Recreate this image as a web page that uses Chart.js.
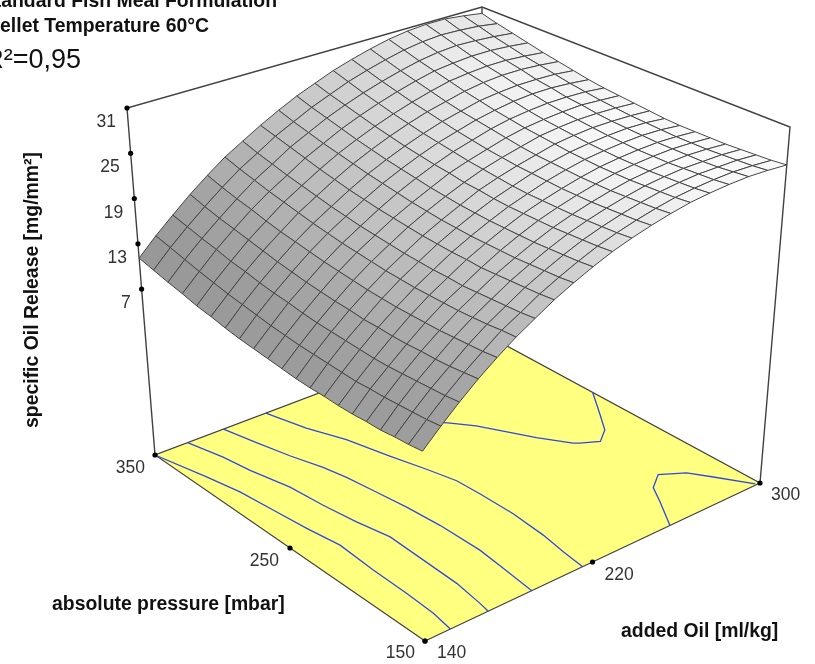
<!DOCTYPE html>
<html>
<head>
<meta charset="utf-8">
<title>specific Oil Release</title>
<script src="https://cdn.jsdelivr.net/npm/chart.js@4"></script>
<style>
  html, body { margin: 0; padding: 0; background: #fff; }
  canvas { display: block; }
</style>
</head>
<body>
<canvas id="mycanvas" width="815" height="664"></canvas>
<script>
// axis ticks
var oilTicks = [140, 220, 300];
var pressureTicks = [150, 250, 350];
var releaseTicks = [7, 13, 19, 25, 31];

// surface, one row per pressure step, one column per oil step
var oilSteps = [140, 148.4, 156.8, 165.3, 173.7, 182.1, 190.5, 198.9, 207.4, 215.8, 224.2, 232.6, 241.1, 249.5, 257.9, 266.3, 274.7, 283.2, 291.6, 300];
var pressureSteps = [150, 160, 170, 180, 190, 200, 210, 220, 230, 240, 250, 260, 270, 280, 290, 300, 310, 320, 330, 340, 350];
var release = [
  [7.8, 9.9, 11.9, 13.8, 15.5, 17.1, 18.5, 19.9, 21.1, 22.2, 23.2, 24.0, 24.7, 25.3, 25.8, 26.1, 26.3, 26.4, 26.3, 26.1],
  [7.6, 9.7, 11.7, 13.6, 15.3, 17.0, 18.3, 19.7, 20.9, 22.0, 23.0, 23.8, 24.5, 25.1, 25.6, 25.9, 26.1, 26.2, 26.1, 25.9],
  [7.5, 9.6, 11.6, 13.4, 15.2, 16.8, 18.2, 19.6, 20.8, 21.9, 22.9, 23.7, 24.4, 25.0, 25.5, 25.8, 26.0, 26.0, 26.0, 25.8],
  [7.3, 9.5, 11.5, 13.3, 15.1, 16.7, 18.1, 19.5, 20.7, 21.8, 22.8, 23.6, 24.3, 24.9, 25.4, 25.7, 25.9, 25.9, 25.9, 25.7],
  [7.3, 9.4, 11.4, 13.3, 15.0, 16.6, 18.0, 19.4, 20.6, 21.7, 22.7, 23.5, 24.2, 24.8, 25.3, 25.6, 25.8, 25.9, 25.8, 25.6],
  [7.2, 9.4, 11.3, 13.2, 15.0, 16.6, 17.9, 19.3, 20.6, 21.7, 22.7, 23.5, 24.2, 24.8, 25.3, 25.6, 25.8, 25.9, 25.8, 25.6],
  [7.2, 9.3, 11.3, 13.2, 15.0, 16.6, 18.0, 19.4, 20.6, 21.7, 22.7, 23.5, 24.2, 24.8, 25.3, 25.6, 25.8, 25.9, 25.8, 25.6],
  [7.3, 9.4, 11.4, 13.3, 15.0, 16.6, 18.0, 19.4, 20.6, 21.7, 22.7, 23.5, 24.3, 24.9, 25.4, 25.7, 25.9, 26.0, 25.9, 25.6],
  [7.3, 9.5, 11.5, 13.3, 15.1, 16.7, 18.1, 19.5, 20.7, 21.8, 22.8, 23.6, 24.4, 25.0, 25.5, 25.8, 26.0, 26.1, 26.0, 25.7],
  [7.4, 9.6, 11.6, 13.5, 15.2, 16.8, 18.2, 19.6, 20.8, 21.9, 23.0, 23.8, 24.5, 25.1, 25.7, 26.0, 26.2, 26.2, 26.1, 25.9],
  [7.6, 9.7, 11.7, 13.6, 15.4, 17.0, 18.4, 19.8, 21.0, 22.1, 23.1, 24.0, 24.7, 25.3, 25.9, 26.2, 26.4, 26.4, 26.3, 26.1],
  [7.8, 9.9, 11.9, 13.8, 15.6, 17.2, 18.6, 20.0, 21.2, 22.3, 23.4, 24.2, 24.9, 25.6, 26.1, 26.4, 26.6, 26.7, 26.5, 26.3],
  [8.0, 10.1, 12.2, 14.0, 15.8, 17.4, 18.8, 20.2, 21.5, 22.6, 23.6, 24.5, 25.2, 25.9, 26.4, 26.7, 26.9, 26.9, 26.8, 26.5],
  [8.2, 10.4, 12.4, 14.3, 16.1, 17.7, 19.1, 20.5, 21.8, 22.9, 23.9, 24.8, 25.5, 26.2, 26.7, 27.1, 27.3, 27.3, 27.1, 26.8],
  [8.5, 10.7, 12.7, 14.6, 16.4, 18.0, 19.4, 20.8, 22.1, 23.2, 24.2, 25.1, 25.9, 26.5, 27.1, 27.4, 27.6, 27.6, 27.5, 27.2],
  [8.9, 11.0, 13.1, 15.0, 16.7, 18.4, 19.8, 21.2, 22.5, 23.6, 24.6, 25.5, 26.3, 26.9, 27.5, 27.9, 28.1, 28.1, 27.9, 27.6],
  [9.2, 11.4, 13.4, 15.4, 17.1, 18.8, 20.2, 21.6, 22.9, 24.0, 25.0, 25.9, 26.7, 27.4, 28.0, 28.3, 28.5, 28.5, 28.3, 28.0],
  [9.7, 11.8, 13.9, 15.8, 17.6, 19.2, 20.6, 22.1, 23.3, 24.5, 25.5, 26.4, 27.2, 27.9, 28.5, 28.8, 29.0, 29.0, 28.8, 28.5],
  [10.1, 12.3, 14.3, 16.2, 18.0, 19.7, 21.1, 22.6, 23.8, 25.0, 26.0, 26.9, 27.7, 28.4, 29.0, 29.4, 29.6, 29.5, 29.3, 29.0],
  [10.6, 12.8, 14.8, 16.7, 18.5, 20.2, 21.6, 23.1, 24.3, 25.5, 26.5, 27.5, 28.3, 29.0, 29.6, 30.0, 30.2, 30.1, 29.9, 29.5],
  [11.1, 13.3, 15.3, 17.3, 19.1, 20.8, 22.2, 23.6, 24.9, 26.1, 27.1, 28.1, 28.9, 29.6, 30.2, 30.6, 30.8, 30.8, 30.5, 30.1]
];

// contour lines on the floor
var contour1Oil = [140, 146.2, 149.7, 151.7, 153.6, 156.1, 155.0, 154.7, 153.9, 152.1];
var contour1Pressure = [350, 321.2, 301.8, 280, 258.4, 237.6, 211.4, 186.4, 165.3, 150];
var contour2Oil = [156, 160.4, 162.6, 167.1, 168.8, 171.2, 174.4, 173.8, 173.2, 171.2, 170.2];
var contour2Pressure = [350, 330.4, 313.8, 291.2, 269.4, 248.5, 228.6, 203.2, 177.8, 157.6, 150];
var contour3Oil = [173.6, 177.5, 181.5, 186.1, 188.5, 190.3, 192.5, 193.9, 194.2, 192.8, 191];
var contour3Pressure = [350, 331.6, 313.1, 295.6, 282, 265.2, 244, 221.7, 192.9, 173.9, 150];
var contour4Oil = [194.4, 199.6, 206.2, 211.2, 215.7, 219, 219.6, 219.8, 218.5, 216.6, 215.3];
var contour4Pressure = [350, 328.2, 308.7, 284.5, 264.5, 247.5, 231.5, 207.5, 183.6, 166.1, 150];
var contour5Oil = [239.2, 244, 250.7, 257, 262, 269.5, 271.3, 277.8, 284.6, 290.6, 300];
var contour5Pressure = [297.4, 291.3, 280.8, 266, 254.1, 238.8, 236.8, 231.5, 238.4, 250.6, 269.9];
var contour6Oil = [257, 265.2, 270, 277.5, 285.8, 290.8, 298.4];
var contour6Pressure = [150, 169.5, 181.7, 189.4, 181.4, 169.7, 151];

var oilMin = 140, oilMax = 300, pressureMin = 150, pressureMax = 350, releaseMin = -15, releaseMax = 31;

// where the corners of the box land in the picture
var floorFront = [425, 641], floorRight = [760, 483], floorBack = [481, 332], floorLeft = [155, 455];
var topFront = [420, 258], topRight = [790, 127], topBack = [482, 7], topLeft = [127, 108];

function project(oil, pressure, value) {
  var u = (oil - oilMin) / (oilMax - oilMin);
  var v = (pressure - pressureMin) / (pressureMax - pressureMin);
  var w = (value - releaseMin) / (releaseMax - releaseMin);
  var pos = [0, 1].map(function (k) {
    var low = floorFront[k] * (1 - u) * (1 - v) + floorRight[k] * u * (1 - v) + floorBack[k] * u * v + floorLeft[k] * (1 - u) * v;
    var high = topFront[k] * (1 - u) * (1 - v) + topRight[k] * u * (1 - v) + topBack[k] * u * v + topLeft[k] * (1 - u) * v;
    return low + (high - low) * w;
  });
  return { x: pos[0], y: pos[1] };
}

function lineSet(points, color, width) {
  return {
    data: points,
    showLine: true,
    fill: false,
    borderColor: color,
    borderWidth: width,
    pointRadius: 0,
    tension: 0
  };
}

function shadeOf(j, i) {
  // light falls from straight above, steep cells go dark
  // slope is taken over the neighbouring cells too, the table is only rounded to one decimal
  var i0 = Math.max(i - 1, 0), i1 = Math.min(i + 2, oilSteps.length - 1);
  var j0 = Math.max(j - 1, 0), j1 = Math.min(j + 2, pressureSteps.length - 1);
  var du = (release[j][i1] + release[j + 1][i1] - release[j][i0] - release[j + 1][i0]) / 2 / (i1 - i0) * (oilSteps.length - 1);
  var dv = (release[j1][i] + release[j1][i + 1] - release[j0][i] - release[j0][i + 1]) / 2 / (j1 - j0) * (pressureSteps.length - 1);
  var light = 1 / Math.sqrt(1 + du * du * 0.001 + dv * dv * 0.001);
  var grey = Math.round(250 * light);
  return 'rgb(' + grey + ',' + grey + ',' + grey + ')';
}

// chart.js paints the first dataset last, so this list is collected back to front and reversed
var sets = [];

var floorSet = lineSet([
  project(oilMin, pressureMin, releaseMin),
  project(oilMax, pressureMin, releaseMin),
  project(oilMax, pressureMax, releaseMin),
  project(oilMin, pressureMax, releaseMin),
  project(oilMin, pressureMin, releaseMin)
], '#404040', 1.2);
floorSet.fill = 'shape';
floorSet.backgroundColor = '#ffff80';
sets.push(floorSet);

[[contour1Oil, contour1Pressure], [contour2Oil, contour2Pressure], [contour3Oil, contour3Pressure],
 [contour4Oil, contour4Pressure], [contour5Oil, contour5Pressure], [contour6Oil, contour6Pressure]].forEach(function (c) {
  sets.push(lineSet(c[0].map(function (oil, n) {
    return project(oil, c[1][n], releaseMin);
  }), '#3048e0', 1.3));
});

// box edges
sets.push(lineSet([
  project(oilMin, pressureMax, releaseMin),
  project(oilMin, pressureMax, releaseMax),
  project(oilMax, pressureMax, releaseMax),
  project(oilMax, pressureMin, releaseMax),
  project(oilMax, pressureMin, releaseMin)
], '#404040', 1.4));
sets.push(lineSet([
  project(oilMax, pressureMax, releaseMax),
  project(oilMax, pressureMax, releaseMin)
], '#404040', 1.4));

// surface cells, far corner first
for (var j = pressureSteps.length - 2; j >= 0; j--) {
  for (var i = oilSteps.length - 2; i >= 0; i--) {
    var cell = lineSet([
      project(oilSteps[i], pressureSteps[j], release[j][i]),
      project(oilSteps[i + 1], pressureSteps[j], release[j][i + 1]),
      project(oilSteps[i + 1], pressureSteps[j + 1], release[j + 1][i + 1]),
      project(oilSteps[i], pressureSteps[j + 1], release[j + 1][i]),
      project(oilSteps[i], pressureSteps[j], release[j][i])
    ], '#454545', 1);
    cell.fill = 'shape';
    cell.backgroundColor = shadeOf(j, i);
    sets.push(cell);
  }
}

// tick dots
var dots = [];
releaseTicks.forEach(function (t) { dots.push(project(oilMin, pressureMax, t)); });
pressureTicks.forEach(function (t) { dots.push(project(oilMin, t, releaseMin)); });
oilTicks.forEach(function (t) { dots.push(project(t, pressureMin, releaseMin)); });
sets.push({
  data: dots,
  showLine: false,
  pointRadius: 2.6,
  pointBackgroundColor: '#000000',
  pointBorderWidth: 0
});

sets.reverse();

var labelPlugin = {
  id: 'labelPlugin',
  afterDraw: function (chart) {
    var ctx = chart.ctx;
    var sx = chart.scales.x, sy = chart.scales.y;
    function text(str, p, dx, dy, font, color, align) {
      ctx.font = font;
      ctx.fillStyle = color;
      ctx.textAlign = align;
      ctx.textBaseline = 'alphabetic';
      ctx.fillText(str, sx.getPixelForValue(p.x) + dx, sy.getPixelForValue(p.y) + dy);
    }
    var tickFont = '17.5px "Liberation Sans"';
    var tickColor = '#333333';
    releaseTicks.forEach(function (t) {
      text(String(t), project(oilMin, pressureMax, t), -11, 19, tickFont, tickColor, 'right');
    });
    text('350', project(oilMin, 350, releaseMin), -10, 18, tickFont, tickColor, 'right');
    text('250', project(oilMin, 250, releaseMin), -11, 18, tickFont, tickColor, 'right');
    text('150', project(oilMin, 150, releaseMin), -10, 17, tickFont, tickColor, 'right');
    text('140', project(140, pressureMin, releaseMin), 12, 17, tickFont, tickColor, 'left');
    text('220', project(220, pressureMin, releaseMin), 12, 17.5, tickFont, tickColor, 'left');
    text('300', project(300, pressureMin, releaseMin), 11, 17, tickFont, tickColor, 'left');

    var boldFont = 'bold 19.4px "Liberation Sans"';
    text('absolute pressure [mbar]', { x: 52, y: 610 }, 0, 0, boldFont, '#111111', 'left');
    text('added Oil [ml/kg]', { x: 621, y: 637 }, 0, 0, boldFont, '#111111', 'left');
    text('Standard Fish Meal Formulation', { x: 277, y: 7 }, 0, 0, boldFont, '#111111', 'right');
    text('Pellet Temperature 60\u00B0C', { x: 209, y: 32 }, 0, 0, boldFont, '#111111', 'right');
    text('R\u00B2=0,95', { x: 81, y: 68 }, 0, 0, '27px "Liberation Sans"', '#111111', 'right');

    ctx.save();
    ctx.translate(sx.getPixelForValue(38), sy.getPixelForValue(290));
    ctx.rotate(-Math.PI / 2);
    ctx.font = boldFont;
    ctx.fillStyle = '#111111';
    ctx.textAlign = 'center';
    ctx.fillText('specific Oil Release [mg/mm\u00B2]', 0, 0);
    ctx.restore();
  }
};

new Chart(document.getElementById('mycanvas'), {
  type: 'scatter',
  data: { datasets: sets },
  options: {
    responsive: false,
    animation: false,
    layout: { padding: 0, autoPadding: false },
    plugins: { legend: { display: false }, tooltip: { enabled: false } },
    scales: {
      x: { type: 'linear', min: 0, max: 815, display: false },
      y: { type: 'linear', min: 0, max: 664, reverse: true, display: false }
    }
  },
  plugins: [labelPlugin]
});
</script>
</body>
</html>
